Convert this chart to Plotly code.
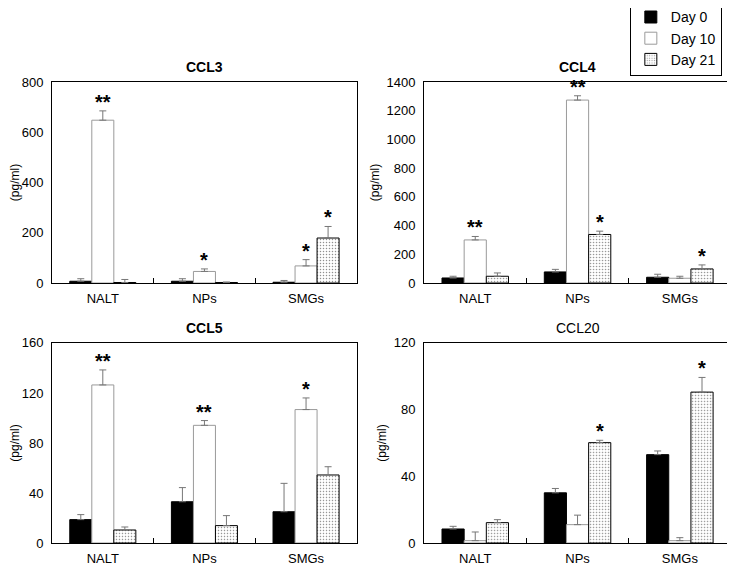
import plotly.graph_objects as go
from plotly.subplots import make_subplots

groups = ["NALT", "NPs", "SMGs"]
days = ["Day 0", "Day 10", "Day 21"]

# CCL3 (pg/ml): means and top of error bars, per day, per group
ccl3_mean = [[7, 7, 3], [648, 46, 68], [2, 2, 179]]
ccl3_top = [[17, 17, 10], [685, 56, 93], [14, 4, 225]]
ccl3_sig = [["", "", ""], ["**", "*", "*"], ["", "", "*"]]

# CCL4
ccl4_mean = [[35, 77, 40], [300, 1274, 33], [47, 338, 98]]
ccl4_top = [[47, 95, 61], [324, 1304, 47], [70, 361, 126]]
ccl4_sig = [["", "", ""], ["**", "**", ""], ["", "*", "*"]]

# CCL5
ccl5_mean = [[18.7, 33, 25], [126.4, 94.1, 106.7], [10.4, 13.9, 54.4]]
ccl5_top = [[22.7, 44.3, 47.7], [138.4, 97.9, 116], [12.8, 21.9, 61]]
ccl5_sig = [["", "", ""], ["**", "**", "*"], ["", "", ""]]

# CCL20
ccl20_mean = [[8.4, 30.1, 53], [1.4, 11, 1.4], [12.2, 60.2, 90.5]]
ccl20_top = [[10, 32.7, 55.2], [6.6, 16.7, 3.2], [14, 61.6, 99.3]]
ccl20_sig = [["", "", ""], ["", "", ""], ["", "*", "*"]]

panels = [
    ("CCL3", True, ccl3_mean, ccl3_top, ccl3_sig, [0, 800], 200),
    ("CCL4", True, ccl4_mean, ccl4_top, ccl4_sig, [0, 1400], 200),
    ("CCL5", True, ccl5_mean, ccl5_top, ccl5_sig, [0, 160], 40),
    ("CCL20", False, ccl20_mean, ccl20_top, ccl20_sig, [0, 120], 40),
]

FONT = "Liberation Sans, Arial, sans-serif"

styles = [
    dict(color="black", line=dict(color="black", width=1)),
    dict(color="white", line=dict(color="#9a9a9a", width=1)),
    dict(color="white", line=dict(color="black", width=1),
         pattern=dict(shape=".", fgcolor="#222222", bgcolor="white", size=3, solidity=0.2)),
]

fig = make_subplots(rows=2, cols=2)

bargap = 0.35
bw = (1 - bargap) / 3
offsets = [-bw, 0, bw]

for p, (name, bold, mean, top, sig, yr, dt) in enumerate(panels):
    r, c = p // 2 + 1, p % 2 + 1
    axn = "" if p == 0 else str(p + 1)
    for d in range(3):
        err = [t - m for t, m in zip(top[d], mean[d])]
        fig.add_trace(go.Bar(
            x=groups, y=mean[d], name=days[d],
            marker=styles[d],
            showlegend=(p == 0),
            legendgroup=days[d],
            error_y=dict(type="data", array=err, arrayminus=[0] * 3, symmetric=False,
                         color="#777777", thickness=1, width=3.5),
        ), row=r, col=c)
        for g in range(3):
            if sig[d][g]:
                fig.add_annotation(
                    x=g + offsets[d], y=top[d][g], xref="x" + axn, yref="y" + axn,
                    text="<b>" + sig[d][g] + "</b>", showarrow=False,
                    yanchor="bottom", yshift=-4,
                    font=dict(size=20, family=FONT, color="black"))
    fig.update_yaxes(range=yr, dtick=dt, row=r, col=c,
                     title=dict(text="(pg/ml)", font=dict(size=12, family=FONT), standoff=4))
    fig.add_annotation(
        x=0.5, y=1, xref="x" + axn + " domain", yref="y" + axn + " domain",
        yanchor="bottom", yshift=5, showarrow=False,
        text=("<b>%s</b>" % name) if bold else name,
        font=dict(size=14, family=FONT, color="black"))

fig.update_xaxes(showline=True, linecolor="black", linewidth=1, mirror=True,
                 ticks="inside", tickson="boundaries", ticklen=5, tickcolor="black",
                 ticklabelstandoff=3,
                 tickfont=dict(size=13, family=FONT, color="black"), showgrid=False)
fig.update_yaxes(showline=True, linecolor="black", linewidth=1, mirror=True,
                 ticks="", showgrid=False, zeroline=False, ticklabelstandoff=5,
                 tickfont=dict(size=13, family=FONT, color="black"))

xl = [0, 0.449]
xr = [0.548, 1]
yt = [0.564, 1]
yb = [0, 0.434]
fig.update_layout(
    xaxis=dict(domain=xl), yaxis=dict(domain=yt),
    xaxis2=dict(domain=xr), yaxis2=dict(domain=yt),
    xaxis3=dict(domain=xl), yaxis3=dict(domain=yb),
    xaxis4=dict(domain=xr), yaxis4=dict(domain=yb),
)

# page has an 8px body margin, so the figure is 8px smaller than the window
fig.update_layout(
    width=727, height=561,
    margin=dict(l=44, r=4, t=74, b=26, autoexpand=False),
    barmode="group", bargap=bargap, bargroupgap=0,
    plot_bgcolor="white", paper_bgcolor="white",
    font=dict(family=FONT, color="black"),
    legend=dict(x=0.851, y=1.177, xanchor="left", yanchor="top",
                bordercolor="black", borderwidth=1, bgcolor="white",
                font=dict(size=14, family=FONT), tracegroupgap=0, itemwidth=30),
)

fig.write_html("out.html")
